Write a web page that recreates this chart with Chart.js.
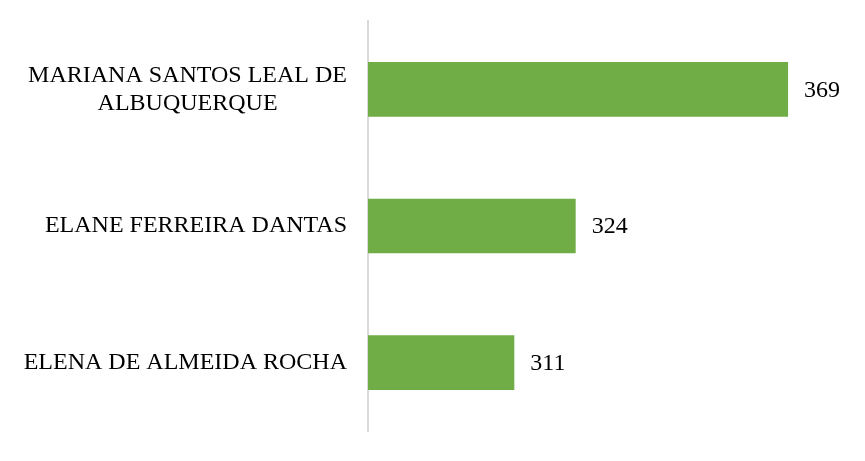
<!DOCTYPE html>
<html>
<head>
<meta charset="utf-8">
<script src="https://cdn.jsdelivr.net/npm/chart.js@4.4.1/dist/chart.umd.min.js"></script>
<style>
html,body{margin:0;padding:0;background:#fff;}
canvas{display:block;}
</style>
</head>
<body>
<canvas id="c" width="865" height="461"></canvas>
<script>
const categories = [
  ["MARIANA SANTOS LEAL DE", "ALBUQUERQUE"],
  ["ELANE FERREIRA DANTAS"],
  ["ELENA DE ALMEIDA ROCHA"]
];
const values = [369, 324, 311];
const axisMin = 280;
const axisMax = 380;

const FONT = '"Liberation Serif", "Times New Roman", serif';

const labelPlugin = {
  id: 'labels',
  afterDatasetsDraw(chart) {
    const ctx = chart.ctx;
    const y = chart.scales.y;
    const area = chart.chartArea;
    ctx.save();
    ctx.font = '24px ' + FONT;
    ctx.fillStyle = '#000';
    ctx.textBaseline = 'middle';
    const rightEdge = area.left - 21;
    categories.forEach((lines, i) => {
      const cy = y.getPixelForValue(i);
      const widths = lines.map(l => ctx.measureText(l).width);
      const bw = Math.max(...widths);
      const cx = rightEdge - bw / 2;
      const lh = 28;
      const startY = cy - (lines.length - 1) * lh / 2;
      ctx.textAlign = 'center';
      lines.forEach((l, k) => ctx.fillText(l, cx, startY + k * lh));
    });
    const meta = chart.getDatasetMeta(0);
    ctx.textAlign = 'left';
    meta.data.forEach((bar, i) => {
      ctx.fillText(String(values[i]), bar.x + 16, bar.y + 1);
    });
    ctx.restore();
  }
};

new Chart(document.getElementById('c'), {
  type: 'bar',
  data: {
    labels: categories.map(c => c.join(' ')),
    datasets: [{
      data: values,
      backgroundColor: '#70AD47',
      borderWidth: 0,
      categoryPercentage: 0.4,
      barPercentage: 1
    }]
  },
  options: {
    indexAxis: 'y',
    responsive: false,
    animation: false,
    layout: { padding: { left: 368, right: 25, top: 21, bottom: 30 } },
    plugins: { legend: { display: false }, tooltip: { enabled: false } },
    scales: {
      x: {
        display: false,
        min: axisMin,
        max: axisMax
      },
      y: {
        display: true,
        ticks: { display: false },
        grid: { display: false, drawTicks: false },
        border: { display: true, color: '#d9d9d9', width: 2 }
      }
    }
  },
  plugins: [labelPlugin]
});
</script>
</body>
</html>
